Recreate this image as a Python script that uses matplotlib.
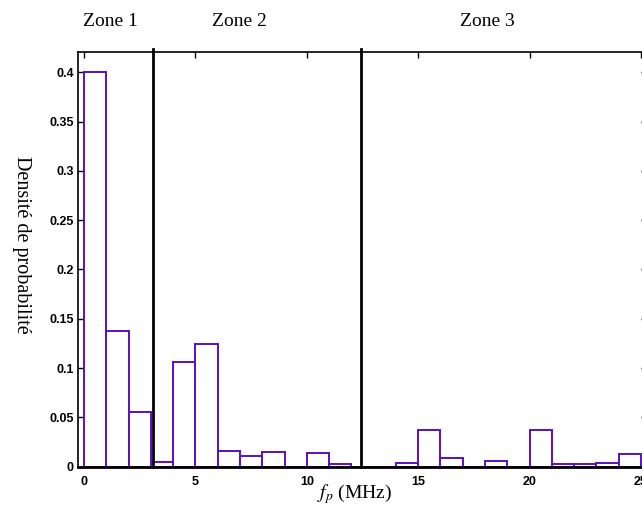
import matplotlib
matplotlib.use("Agg")
import matplotlib.pyplot as plt
import matplotlib.transforms as mtransforms
import numpy as np

# Data
bin_edges = list(range(0, 26))
densities = [0.400, 0.138, 0.055, 0.005, 0.106, 0.124, 0.0156, 0.0105, 0.0146, 0.0,
             0.0136, 0.0024, 0.0, 0.0, 0.0034, 0.037, 0.009, 0.0, 0.0058, 0.0,
             0.037, 0.0024, 0.0024, 0.0037, 0.0129]
zone_bounds = [3.08, 12.45]
zone_labels = ["Zone 1", "Zone 2", "Zone 3"]
zone_label_x = [1.17, 6.96, 18.1]
xticks = [0, 5, 10, 15, 20, 25]
yticks = [0, 0.05, 0.1, 0.15, 0.2, 0.25, 0.3, 0.35, 0.4]
ytick_labels = ["0", "0.05", "0.1", "0.15", "0.2", "0.25", "0.3", "0.35", "0.4"]

plt.rcParams['mathtext.fontset'] = 'stix'
W, H = 642, 509
fig = plt.figure(figsize=(W / 100, H / 100), dpi=100)
ax = fig.add_axes([78 / W, (H - 466.7) / H, 569 / W, (466.7 - 51.5) / H])

lefts = np.array(bin_edges[:-1])
widths = np.diff(bin_edges)
ax.bar(lefts, densities, width=widths, align='edge', facecolor='white',
       edgecolor='#5a10c4', linewidth=1.4, zorder=2)

for xb in zone_bounds:
    ax.axvline(xb, ymin=0, ymax=1.006, color='black', linewidth=2, zorder=3, clip_on=False)

ax.set_xlim(-0.27, 25.27)
ax.set_ylim(0, 0.421)
ax.set_xticks(xticks)
ax.set_yticks(yticks)
ax.set_yticklabels(ytick_labels)
ax.tick_params(direction='in', length=4, width=1, top=True, right=True,
               labelsize=9, pad=3)
ax.tick_params(axis='x', pad=7)
for lab in ax.get_xticklabels() + ax.get_yticklabels():
    lab.set_fontweight('bold')
    lab.set_family('Liberation Sans')
ax.spines['bottom'].set_linewidth(2)
for s in ['top', 'left', 'right']:
    ax.spines[s].set_linewidth(1.2)
for s in ax.spines.values():
    s.set_zorder(4)

trans = mtransforms.blended_transform_factory(ax.transData, fig.transFigure)
for xl, lab in zip(zone_label_x, zone_labels):
    fig.text(xl, 1 - 21 / H, lab, transform=trans, ha='center', va='center',
             family='Liberation Serif', fontsize=14)

fig.text(21 / W, 1 - 245 / H, "Densité de probabilité", rotation=-90,
         ha='center', va='center', family='Liberation Serif', fontsize=14.5)
fig.text(355 / W, 1 - 494 / H, r"$f_p$ (MHz)", ha='center', va='center',
         family='Liberation Serif', fontsize=14)

fig.savefig("out.png", dpi=100)
